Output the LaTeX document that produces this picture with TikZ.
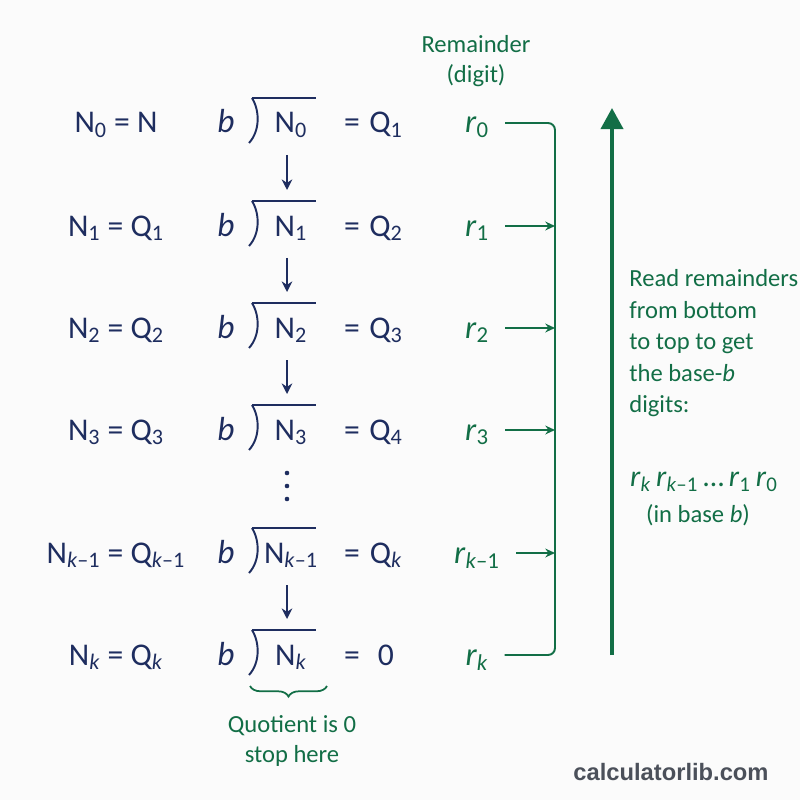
\documentclass[tikz,border=0pt]{standalone}
\usepackage{fontspec}
\setmainfont{Carlito}
\newfontfamily\markfont{Liberation Sans}
\usetikzlibrary{arrows.meta, positioning, calc, decorations.pathreplacing}
\definecolor{navy}{RGB}{30, 45, 95}
\definecolor{leaf}{RGB}{18, 110, 70}
\definecolor{paper}{RGB}{251, 251, 251}
\definecolor{markgray}{RGB}{75, 80, 90}
\newcommand{\lo}[1]{\textsubscript{#1}}
\tikzset{
    eqn/.style={
        anchor=base, inner sep=0pt, text=navy,
        font=\fontsize{18}{20}\selectfont
    },
    rem/.style={
        anchor=base, inner ysep=0pt, inner xsep=9pt, text=leaf,
        font=\fontsize{18.5}{20}\selectfont
    },
    note/.style={text=leaf, font=\fontsize{14}{17}\selectfont, align=center},
    downarrow/.style={-{Stealth[length=6pt, width=6pt]}, line width=1pt, color=navy},
    feed/.style={-{Stealth[length=5.5pt, width=5pt]}, line width=1pt, color=leaf},
    bus/.style={line width=1.1pt, color=leaf, rounded corners=4pt},
    bigarrow/.style={-{Triangle[length=12pt, width=12.5pt]}, line width=2.3pt, color=leaf},
    divbar/.style={line width=1.1pt, color=navy}
}
\begin{document}
\begin{tikzpicture}[x=0.02cm, y=-0.02cm]
    \fill[paper] (0,0) rectangle (800,800);
    \useasboundingbox (0,0) rectangle (800,800);

    % one row per division step
    \foreach \i/\y/\lhs/\dvd/\quo/\rr in {
        0/133/{N\lo{0} = N}/{N\lo{0}}/{Q\lo{1}}/{\lo{0}},
        1/236/{N\lo{1} = Q\lo{1}}/{N\lo{1}}/{Q\lo{2}}/{\lo{1}},
        2/338/{N\lo{2} = Q\lo{2}}/{N\lo{2}}/{Q\lo{3}}/{\lo{2}},
        3/440/{N\lo{3} = Q\lo{3}}/{N\lo{3}}/{Q\lo{4}}/{\lo{3}},
        4/563/{N\lo{\textit{k}–1} = Q\lo{\textit{k}–1}}/{N\lo{\textit{k}–1}}/{Q\lo{\textit{k}}}/{\lo{\textit{k}–1}},
        5/665/{N\lo{\textit{k}} = Q\lo{\textit{k}}}/{N\lo{\textit{k}}}/{0}/{\lo{\textit{k}}}
    }{
        \node[eqn] (lhs\i) at (116,\y) {\lhs};
        \node[eqn, font=\fontsize{19}{20}\selectfont\itshape] (b\i) at (226,\y) {b};
        \node[eqn] (d\i) at (291,\y) {\dvd};
        \node[eqn] (eq\i) at (352,\y) {=};
        \node[eqn] (q\i) at (386,\y) {\quo};
        \node[rem] (r\i) at (477,\y) {\textit{r}\rr};
        % division bracket
        \coordinate (ov\i) at (252,\y-35);
        \draw[divbar] (ov\i) -- ++(64,0);
        \draw[divbar] (ov\i) .. controls (260,\y-22) and (260,\y-2) .. (249,\y+10);
        \coordinate (dn\i) at (287,\y+22);
        \coordinate (up\i) at (287,\y-46);
        \coordinate (bus\i) at (555,\y-10);
    }

    % quotient becomes next dividend
    \foreach \i/\j in {0/1, 1/2, 2/3, 4/5}
        \draw[downarrow] (dn\i) -- (up\j);
    \foreach \v in {473, 486, 499}
        \fill[navy] (287,\v) circle (2.3);

    % remainders collected on the right
    \draw[bus] (r0.east |- bus0) -- (bus0) -- (bus5) -- (r5.east |- bus5);
    \foreach \i in {1,2,3,4}
        \draw[feed] (r\i.east |- bus\i) -- (bus\i);

    \node[note] (remhead) at (476,61) {Remainder\\(digit)};

    % stop condition
    \coordinate (bl) at (250,686);
    \coordinate (br) at (327,686);
    \draw[leaf, line width=1pt, decorate, decoration={brace, mirror, amplitude=6pt}] (bl) -- (br);
    \node[note] (stop) at (292,741) {Quotient is 0\\stop here};

    % reading direction
    \coordinate (readbot) at (612,655);
    \coordinate (readtop) at (612,108);
    \draw[bigarrow] (readbot) -- (readtop);
    \node[note, align=left, anchor=north west, inner sep=0pt, font=\fontsize{14}{18}\selectfont] (readtxt) at (629,269)
        {Read remainders\\from bottom\\to top to get\\the base-\textit{b}\\digits:};
    \node[note, font=\fontsize{17}{18}\selectfont] (digits) at (704,482)
        {\textit{r}\lo{\textit{k}}\,\textit{r}\lo{\textit{k}–1}\,…\,\textit{r}\lo{1}\,\textit{r}\lo{0}};
    \node[note] (inbase) at (698,515) {(in base \textit{b})};

    \node[text=markgray, font=\fontsize{13.5}{16}\selectfont\markfont\bfseries] (mark) at (671,772) {calculatorlib.com};
\end{tikzpicture}
\end{document}
